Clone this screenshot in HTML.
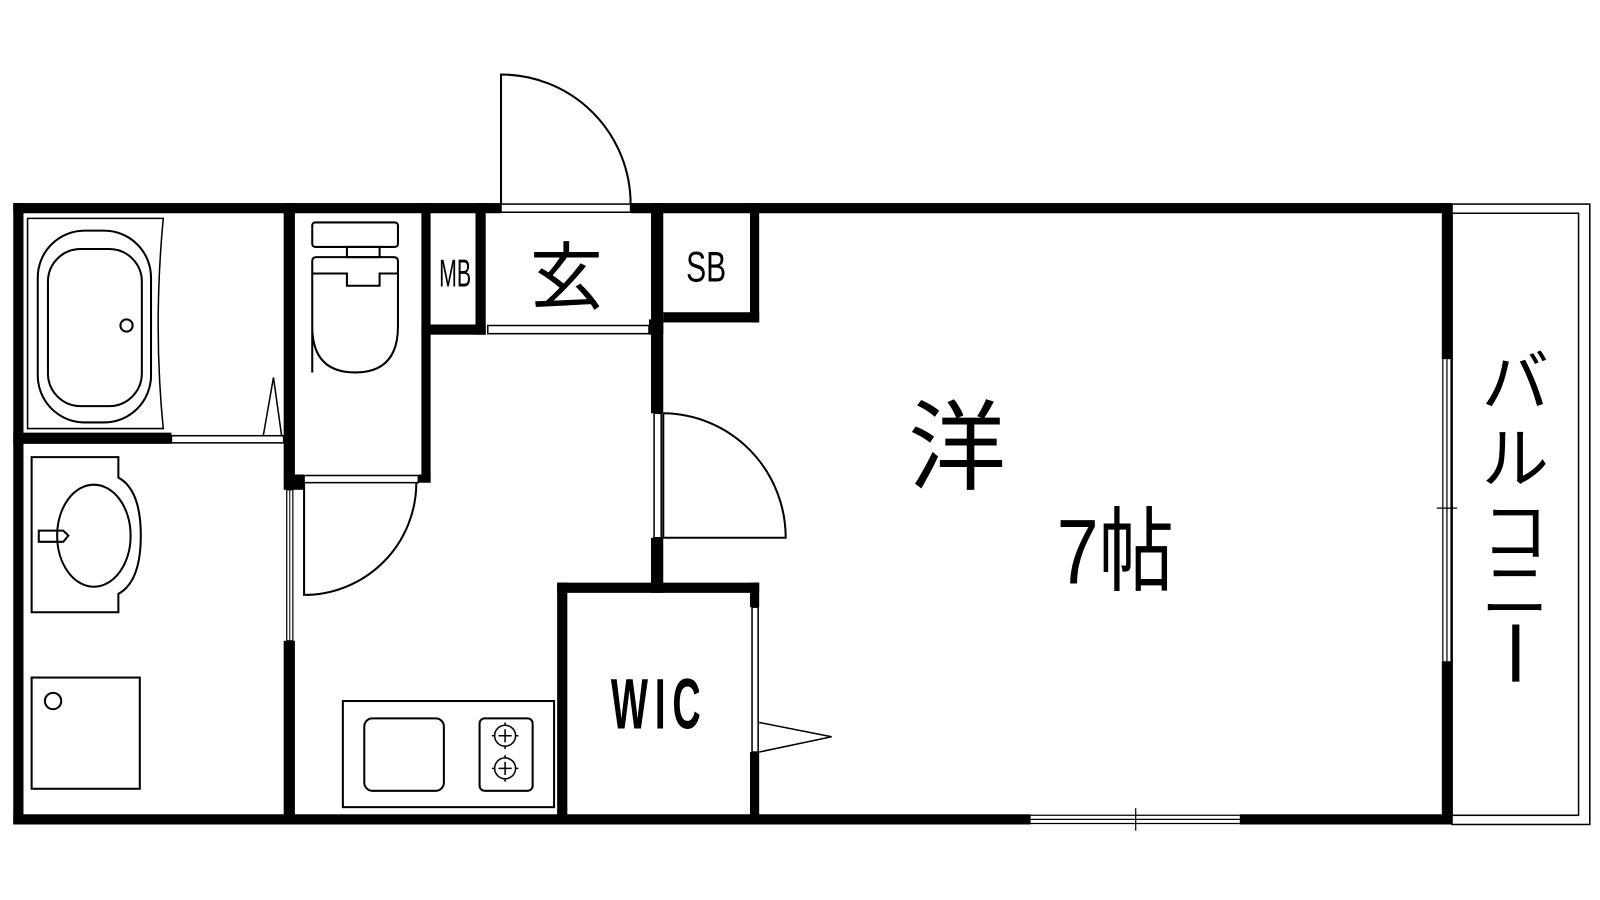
<!DOCTYPE html>
<html><head><meta charset="utf-8"><style>
html,body{margin:0;padding:0;background:#fff;width:1600px;height:900px;overflow:hidden}
svg{display:block}
text{font-family:"Liberation Sans","Noto Sans CJK JP",sans-serif;fill:#000}
</style></head><body>
<svg width="1600" height="900" viewBox="0 0 1600 900" xmlns="http://www.w3.org/2000/svg">
<g transform="scale(1.0204)" fill="none" stroke="#000" stroke-width="2">
<path d="M491 200 V73 A127 127 0 0 1 618 200"/>
<rect x="491" y="200" width="127" height="8" stroke-width="1.5"/>
<g fill="#000" stroke="none">
<rect x="13" y="199" width="478" height="10"/>
<rect x="618" y="199" width="805" height="10"/>
<rect x="13" y="199" width="10" height="609"/>
<rect x="13" y="798" width="997" height="10"/>
<rect x="1215" y="798" width="208" height="10"/>
<rect x="1413" y="199" width="10" height="153"/>
<rect x="1413" y="648" width="10" height="160"/>
<rect x="13" y="424" width="155" height="11"/>
<rect x="278" y="199" width="11" height="267"/>
<rect x="278" y="628" width="11" height="180"/>
<rect x="278" y="465" width="20" height="15"/>
<rect x="413" y="199" width="9" height="274"/>
<rect x="410" y="465" width="12" height="8"/>
<rect x="466" y="199" width="10" height="129"/>
<rect x="413" y="318" width="63" height="10"/>
<rect x="638" y="199" width="12" height="206"/>
<rect x="638" y="527" width="12" height="54"/>
<rect x="636" y="313" width="14" height="15"/>
<rect x="735" y="199" width="9" height="117"/>
<rect x="650" y="306" width="94" height="10"/>
<rect x="546" y="571" width="198" height="10"/>
<rect x="546" y="571" width="10" height="237"/>
<rect x="735" y="571" width="9" height="24"/>
<rect x="735" y="737" width="9" height="71"/>
</g>
<rect x="168" y="427" width="110" height="7" stroke-width="1.5"/>
<rect x="298" y="466" width="112" height="7" stroke-width="1.5"/>
<rect x="478" y="319" width="158" height="8" stroke-width="1.5"/>
<rect x="281" y="480" width="6" height="148" stroke-width="1.2"/>
<line x1="284" y1="480" x2="284" y2="628" stroke-width="1"/>
<rect x="641" y="405" width="7" height="122" stroke-width="1.5"/>
<rect x="737" y="595" width="6" height="142" stroke-width="1.5"/>
<g stroke-width="1.2"><line x1="1414" y1="352" x2="1414" y2="648"/><line x1="1418" y1="352" x2="1418" y2="648"/><line x1="1422" y1="352" x2="1422" y2="648"/><line x1="1408" y1="498" x2="1428" y2="498"/></g>
<g stroke-width="1.2"><line x1="1010" y1="799" x2="1215" y2="799"/><line x1="1010" y1="803" x2="1215" y2="803"/><line x1="1010" y1="807" x2="1215" y2="807"/><line x1="1113" y1="792" x2="1113" y2="814"/></g>
<rect x="1423" y="200" width="135" height="608" stroke-width="1.5"/>
<rect x="1423" y="209" width="124" height="590" stroke-width="1.5"/>
<path d="M298 473 V583 A110 110 0 0 0 408 473"/>
<path d="M650 405 V527 H770 A121 122 0 0 0 650 405"/>
<path d="M744 708 L815 722 L744 737" stroke-width="1.5"/>
<path d="M258 427 L268 370 L276 427" stroke-width="1.5"/>
<path d="M27 214 H160 Q150 320 160 420 H27 Z" stroke-width="1.5"/>
<rect x="37" y="226" width="111" height="188" rx="46" ry="46"/>
<rect x="47" y="244" width="92" height="154" rx="32" ry="32"/>
<circle cx="124" cy="319" r="6"/>
<rect x="306" y="218" width="84" height="24" rx="3"/>
<rect x="340" y="242" width="32" height="10"/>
<path d="M306 365 V256 Q306 252 310 252 H386 Q390 252 390 256 V320 Q390 365 348 365 Q306 365 306 320"/>
<path d="M306 268 H340 V280 H372 V268 H390"/>
<path d="M31 448 H116 V468 Q138 480 138 525 Q138 570 116 582 V600 H31 Z"/>
<ellipse cx="92" cy="525" rx="36" ry="50"/>
<path d="M38 520 H62 L67 525 L62 531 H38 Z"/>
<rect x="31" y="664" width="106" height="109"/>
<circle cx="52" cy="687" r="8"/>
<rect x="336" y="687" width="207" height="104"/>
<rect x="357" y="704" width="78" height="71" rx="8"/>
<rect x="470" y="704" width="52" height="71" rx="5"/>
<circle cx="495" cy="721" r="10"/><circle cx="495" cy="753" r="10"/>
<g stroke-width="1.5"><line x1="495" y1="708" x2="495" y2="734"/><line x1="482" y1="721" x2="508" y2="721"/><line x1="495" y1="740" x2="495" y2="766"/><line x1="482" y1="753" x2="508" y2="753"/></g>
<circle cx="495" cy="721" r="8" stroke="#fff" stroke-width="3"/>
<circle cx="495" cy="753" r="8" stroke="#fff" stroke-width="3"/>
<g stroke="none">
<text x="446" y="281" font-size="38" text-anchor="middle" transform="translate(446 0) scale(0.55 1) translate(-446 0)">MB</text>
<text x="555" y="297" font-size="72" text-anchor="middle">玄</text>
<text x="692" y="276" font-size="42" text-anchor="middle" transform="translate(692 0) scale(0.7 1) translate(-692 0)">SB</text>
<text x="646" y="714" font-size="70" font-weight="bold" text-anchor="middle" letter-spacing="12" transform="translate(646 0) scale(0.55 1) translate(-646 0)">WIC</text>
<text x="938" y="472" font-size="96" text-anchor="middle">洋</text>
<text x="1093" y="572" font-size="90" text-anchor="middle" transform="translate(1093 0) scale(0.82 1) translate(-1093 0)">7帖</text>
<text x="1485" y="398" font-size="66" text-anchor="middle">バ</text>
<text x="1485" y="473" font-size="66" text-anchor="middle">ル</text>
<text x="1485" y="545" font-size="66" text-anchor="middle">コ</text>
<text x="1485" y="602" font-size="66" text-anchor="middle">ニ</text>
<rect x="1482" y="612" width="7" height="56" fill="#000"/>
</g>
</g>
</svg>
</body></html>
